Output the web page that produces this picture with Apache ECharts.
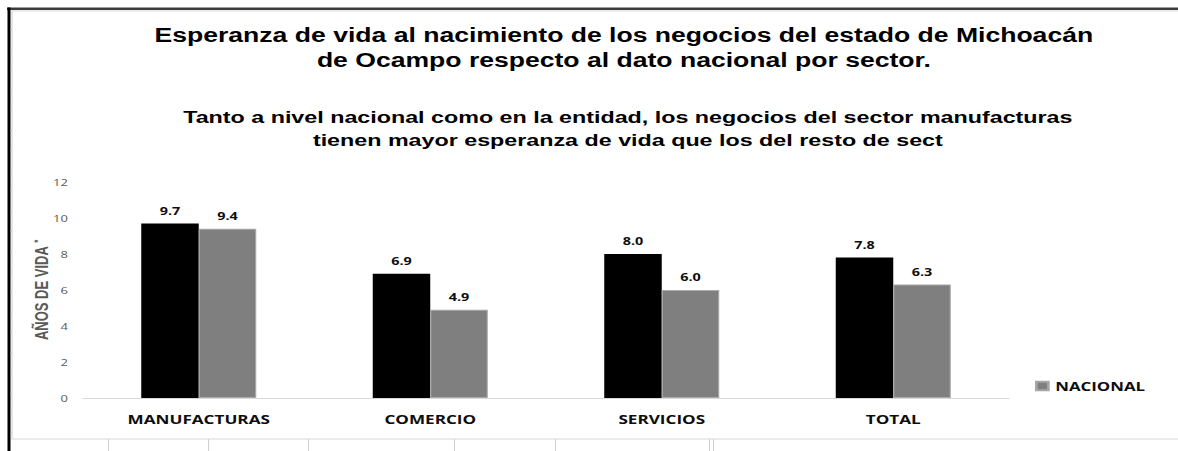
<!DOCTYPE html>
<html>
<head>
<meta charset="utf-8">
<script src="https://cdn.jsdelivr.net/npm/echarts@6/dist/echarts.min.js"></script>
<style>
html,body{margin:0;padding:0;background:#fff;overflow:hidden;width:1178px;height:451px;}
#chart{width:860px;height:451px;transform:scaleX(1.369767);transform-origin:0 0;}
</style>
</head>
<body>
<div id="chart"></div>
<script>
// ---- data ----
var categories = ['MANUFACTURAS', 'COMERCIO', 'SERVICIOS', 'TOTAL'];
var seriesNames = ['MICHOACÁN DE OCAMPO', 'NACIONAL'];
var michoacan = [9.7, 6.9, 8.0, 7.8];
var nacional = [9.4, 4.9, 6.0, 6.3];
var yTicks = [0, 2, 4, 6, 8, 10, 12];
var titleLines = ['Esperanza de vida al nacimiento de los negocios del estado de Michoacán', 'de Ocampo respecto al dato nacional por sector.'];
var subtitleLines = ['Tanto a nivel nacional como en la entidad, los negocios del sector manufacturas', 'tienen mayor esperanza de vida que los del resto de sect'];
var yAxisName = 'AÑOS DE VIDA';

// ---- layout (drawn at 860px wide, stretched horizontally like the reference) ----
var S = 1178 / 860;
function X(px) { return px / S; }

var chart = echarts.init(document.getElementById('chart'), null, {renderer: 'svg'});

// decorative frame (spreadsheet borders around the chart)
var deco = [];
deco.push({type: 'rect', shape: {x: X(12), y: 11, width: X(1200) , height: 428}, style: {fill: 'none', stroke: '#d9d9d9', lineWidth: 1}, silent: true, z: -1});
deco.push({type: 'rect', shape: {x: X(7), y: 7.5, width: X(1180), height: 2.5}, style: {fill: '#3c3c3c'}, silent: true});
deco.push({type: 'rect', shape: {x: X(7.5), y: 7.5, width: X(3), height: 444}, style: {fill: '#000'}, silent: true});
[108, 208, 308, 454, 555, 709, 713].forEach(function (vx) {
  deco.push({type: 'rect', shape: {x: X(vx), y: 439, width: X(1), height: 12}, style: {fill: '#cfcfcf'}, silent: true});
});
for (var r = 0; r < 21; r++) {
  var ry = 29 + r * 20.2;
  if (ry > 450) break;
  deco.push({type: 'rect', shape: {x: X(10.5), y: ry, width: X(1.5), height: 1}, style: {fill: '#c8c8c8'}, silent: true});
}

var option = {
  backgroundColor: '#ffffff',
  animation: false,
  title: [
    {
      text: titleLines.join('\n'),
      left: X(617), top: 18, textAlign: 'center',
      textStyle: {fontFamily: 'Liberation Sans, Arial, sans-serif', fontWeight: 'bold', fontSize: 19.4, lineHeight: 25, color: '#000'}
    },
    {
      text: subtitleLines.join('\n'),
      left: X(621), top: 101, textAlign: 'center',
      textStyle: {fontFamily: 'Liberation Sans, Arial, sans-serif', fontWeight: 'bold', fontSize: 17, lineHeight: 23, color: '#000'}
    }
  ],
  legend: {
    data: ['NACIONAL'],
    left: X(1035), top: 380, padding: 0,
    itemWidth: X(12), itemHeight: 8.5,
    icon: 'rect',
    textStyle: {fontFamily: 'Open Sans, sans-serif', fontWeight: 'bold', fontSize: 12.3, color: '#0d0d0d'}
  },
  grid: {left: X(83), right: 860 - X(1009), top: 182, bottom: 53, containLabel: false},
  xAxis: {
    type: 'category',
    data: categories,
    axisLine: {lineStyle: {color: '#d9d9d9', width: 1}},
    axisTick: {show: false},
    axisLabel: {margin: 14, fontFamily: 'Open Sans, sans-serif', fontWeight: 'bold', fontSize: 12.5, color: '#0d0d0d'}
  },
  yAxis: {
    type: 'value',
    min: yTicks[0], max: yTicks[yTicks.length - 1], interval: 2,
    name: yAxisName + ' {s|*}',
    nameLocation: 'middle',
    nameGap: 24,
    nameMoveOverlap: false,
    nameRotate: 90,
    nameTextStyle: {
      fontFamily: 'Liberation Sans Narrow, Arial Narrow, Liberation Sans, sans-serif', fontWeight: 'bold', fontSize: 13, color: '#595959',
      rich: {s: {fontSize: 8, color: '#595959', verticalAlign: 'top', padding: [0, 0, 5, 0]}}
    },
    axisLine: {show: false},
    axisTick: {show: false},
    splitLine: {show: false},
    axisLabel: {margin: 11, fontFamily: 'Open Sans, sans-serif', fontSize: 9.5, color: '#595959'}
  },
  series: [
    {
      name: seriesNames[0], type: 'bar', data: michoacan,
      barWidth: X(57.5), barGap: '0%',
      itemStyle: {color: '#000000'},
      label: {show: true, position: 'top', distance: 7, fontFamily: 'Open Sans, sans-serif', fontWeight: 'bold', fontSize: 10.5, color: '#0d0d0d',
        formatter: function (p) { return p.value.toFixed(1); }}
    },
    {
      name: seriesNames[1], type: 'bar', data: nacional,
      barWidth: X(57.5), barGap: '0%',
      itemStyle: {color: '#7f7f7f', borderColor: '#a6a6a6', borderWidth: 0.8},
      label: {show: true, position: 'top', distance: 7, fontFamily: 'Open Sans, sans-serif', fontWeight: 'bold', fontSize: 10.5, color: '#0d0d0d',
        formatter: function (p) { return p.value.toFixed(1); }}
    }
  ],
  graphic: deco
};
chart.setOption(option);
</script>
</body>
</html>
